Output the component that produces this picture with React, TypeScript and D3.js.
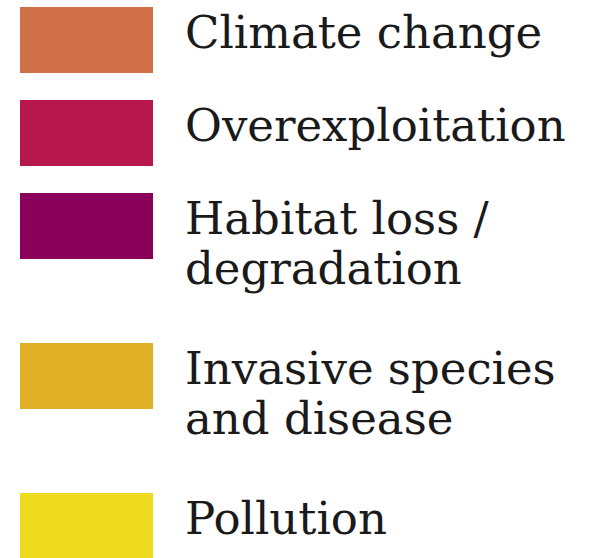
import React, { useEffect, useRef } from "react";
import * as d3 from "d3";

const categories: string[][] = [
  ["Climate change"],
  ["Overexploitation"],
  ["Habitat loss /", "degradation"],
  ["Invasive species", "and disease"],
  ["Pollution"],
];
const colors: string[] = ["#D07049", "#B8174E", "#8A005A", "#E0B127", "#EEDB1E"];

const W = 591;
const H = 558;

export default function App() {
  const ref = useRef<SVGSVGElement>(null);
  useEffect(() => {
    const svg = d3.select(ref.current);
    svg.selectAll("*").remove();
    const swX = 20, swW = 133, swH = 66, textX = 185;
    const step = 93, lineStep = 57, lineH = 50;
    let top = 7;
    const tops: number[] = categories.map((lines) => {
      const t = top;
      top += step + (lines.length - 1) * lineStep;
      return t;
    });
    const color = d3.scaleOrdinal<number, string>().domain(d3.range(categories.length)).range(colors);
    const g = svg
      .selectAll("g.item")
      .data(categories)
      .join("g")
      .attr("class", "item")
      .attr("transform", (_, i) => `translate(0,${tops[i]})`);
    g.append("rect")
      .attr("x", swX)
      .attr("y", 0)
      .attr("width", swW)
      .attr("height", swH)
      .attr("fill", (_, i) => color(i));
    const t = g
      .append("text")
      .attr("x", textX)
      .attr("y", 41)
      .attr("fill", "#1a1a1a")
      .style("font-family", "'DejaVu Serif', serif")
      .style("font-size", "45px");
    t.selectAll("tspan")
      .data((d) => d)
      .join("tspan")
      .attr("x", textX)
      .attr("dy", (_, j) => (j === 0 ? 0 : lineH))
      .text((d) => d);
  }, []);
  return (
    <svg
      ref={ref}
      width={W}
      height={H}
      style={{ position: "absolute", left: 0, top: 0, background: "#fff" }}
    />
  );
}
